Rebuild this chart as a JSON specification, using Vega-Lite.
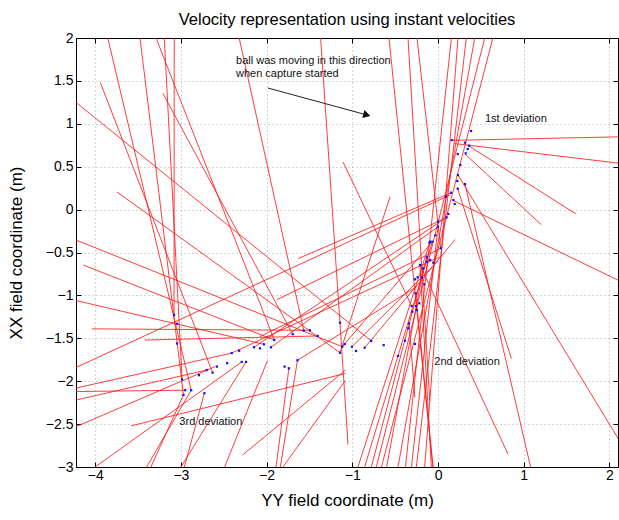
{
  "$schema": "https://vega.github.io/schema/vega-lite/v6.json",
  "width": 542,
  "height": 429,
  "autosize": {"type": "none"},
  "padding": {"left": 76, "top": 38, "right": 1, "bottom": 53},
  "title": {"text": "Velocity representation using instant velocities", "font": "Liberation Sans", "fontSize": 16.5, "fontWeight": "normal", "color": "#000", "baseline": "alphabetic", "offset": -10},
  "datasets": {
    "seg": [
      {"x0": -3.853, "y0": 2.0, "x1": -2.88, "y1": -2.105},
      {"x0": -3.477, "y0": 2.0, "x1": -2.97, "y1": -2.16},
      {"x0": -3.29, "y0": 2.0, "x1": -1.91, "y1": -1.52},
      {"x0": -3.194, "y0": 2.0, "x1": -2.986, "y1": -1.98},
      {"x0": -3.078, "y0": 2.0, "x1": -3.08, "y1": -1.23},
      {"x0": -3.94, "y0": 1.48, "x1": -2.63, "y1": -1.9},
      {"x0": -4.3, "y0": 1.31, "x1": -0.78, "y1": -1.53},
      {"x0": -3.21, "y0": 1.355, "x1": -1.695, "y1": -1.453},
      {"x0": -2.32, "y0": 2.0, "x1": -1.567, "y1": -1.41},
      {"x0": -1.37, "y0": 2.0, "x1": -1.144, "y1": -1.318},
      {"x0": -3.745, "y0": 0.205, "x1": -1.144, "y1": -1.668},
      {"x0": -4.224, "y0": -0.355, "x1": -1.117, "y1": -1.598},
      {"x0": -4.224, "y0": -1.06, "x1": -2.03, "y1": -1.57},
      {"x0": -4.14, "y0": -0.646, "x1": -1.91, "y1": -1.52},
      {"x0": -4.04, "y0": -1.39, "x1": -1.494, "y1": -1.407},
      {"x0": -3.42, "y0": -1.52, "x1": -1.404, "y1": -1.473},
      {"x0": -4.224, "y0": -2.08, "x1": -2.407, "y1": -1.672},
      {"x0": -4.224, "y0": -2.53, "x1": -2.6, "y1": -1.83},
      {"x0": -4.224, "y0": -2.12, "x1": -2.95, "y1": -2.105},
      {"x0": -4.224, "y0": -2.22, "x1": -2.7, "y1": -1.87},
      {"x0": -3.58, "y0": -2.52, "x1": -1.08, "y1": -1.91},
      {"x0": -4.0, "y0": -3.0, "x1": -2.29, "y1": -1.775},
      {"x0": -3.4, "y0": -3.0, "x1": -2.88, "y1": -2.105},
      {"x0": -3.35, "y0": -3.0, "x1": -2.97, "y1": -2.16},
      {"x0": -3.0, "y0": -3.0, "x1": -2.24, "y1": -1.775},
      {"x0": -2.96, "y0": -3.0, "x1": -2.726, "y1": -2.14},
      {"x0": -2.49, "y0": -3.0, "x1": -1.99, "y1": -1.76},
      {"x0": -2.28, "y0": -2.86, "x1": -1.08, "y1": -1.87},
      {"x0": -1.89, "y0": -3.0, "x1": -1.74, "y1": -1.85},
      {"x0": -1.84, "y0": -3.0, "x1": -1.64, "y1": -1.756},
      {"x0": -1.81, "y0": -3.0, "x1": -1.08, "y1": -1.99},
      {"x0": -2.407, "y0": -1.672, "x1": 0.02, "y1": -0.55},
      {"x0": -2.147, "y0": -1.604, "x1": 0.1, "y1": -0.09},
      {"x0": -1.95, "y0": -1.605, "x1": 0.0, "y1": -0.2},
      {"x0": -1.64, "y0": -1.756, "x1": -0.25, "y1": -0.9},
      {"x0": 0.152, "y0": 0.197, "x1": -1.63, "y1": -0.57},
      {"x0": 0.1, "y0": -0.09, "x1": -1.88, "y1": -1.05},
      {"x0": 0.032, "y0": -0.451, "x1": -2.077, "y1": -1.48},
      {"x0": -1.144, "y0": -1.668, "x1": -0.56, "y1": 0.15},
      {"x0": 0.152, "y0": 0.807, "x1": 2.2, "y1": 0.85},
      {"x0": 0.19, "y0": 0.77, "x1": 2.2, "y1": 0.53},
      {"x0": 0.354, "y0": 0.745, "x1": 1.607, "y1": -0.049},
      {"x0": 0.319, "y0": 0.644, "x1": 1.206, "y1": -0.177},
      {"x0": 0.175, "y0": 0.107, "x1": 2.2, "y1": -0.87},
      {"x0": 0.233, "y0": 0.403, "x1": 2.2, "y1": -2.83},
      {"x0": 0.23, "y0": 0.244, "x1": 0.856, "y1": -1.737},
      {"x0": 0.315, "y0": 0.298, "x1": 1.08, "y1": -3.0},
      {"x0": -0.21, "y0": -0.646, "x1": 0.817, "y1": -2.85},
      {"x0": -0.338, "y0": -1.325, "x1": -0.27, "y1": -2.19},
      {"x0": -1.144, "y0": -1.318, "x1": -1.05, "y1": -2.74},
      {"x0": -0.572, "y0": 2.0, "x1": -0.06, "y1": -3.0},
      {"x0": -0.35, "y0": 2.0, "x1": -0.097, "y1": -2.23},
      {"x0": -0.245, "y0": 2.0, "x1": 0.032, "y1": -0.451},
      {"x0": 0.156, "y0": 2.0, "x1": -0.38, "y1": -3.0},
      {"x0": 0.233, "y0": 2.0, "x1": -0.156, "y1": -3.0},
      {"x0": 0.33, "y0": 2.0, "x1": -0.253, "y1": -3.0},
      {"x0": 0.428, "y0": 2.0, "x1": -0.467, "y1": -3.0},
      {"x0": 0.545, "y0": 2.0, "x1": -0.72, "y1": -3.0},
      {"x0": 0.64, "y0": 2.0, "x1": -0.66, "y1": -3.0},
      {"x0": -0.934, "y0": -3.0, "x1": -0.093, "y1": -0.374},
      {"x0": -0.856, "y0": -3.0, "x1": -0.066, "y1": -0.374},
      {"x0": -0.778, "y0": -3.0, "x1": -0.132, "y1": -0.556},
      {"x0": -0.6, "y0": -3.0, "x1": -0.172, "y1": -0.684},
      {"x0": -0.31, "y0": -3.0, "x1": 0.0, "y1": -0.2},
      {"x0": -0.078, "y0": -3.0, "x1": -0.21, "y1": -0.646},
      {"x0": -0.058, "y0": -3.0, "x1": -0.26, "y1": -0.976},
      {"x0": 0.14, "y0": 0.17, "x1": -4.224, "y1": -1.84},
      {"x0": -1.108, "y0": 0.555, "x1": -0.307, "y1": -1.124},
      {"x0": -1.117, "y0": -1.598, "x1": -0.066, "y1": -0.374},
      {"x0": -1.004, "y0": -1.598, "x1": 0.0, "y1": -0.6},
      {"x0": -0.856, "y0": -1.61, "x1": 0.2, "y1": -0.35}
    ],
    "dots": [
      {"x": -3.08, "y": -1.23}, {"x": -3.045, "y": -1.33}, {"x": -3.045, "y": -1.56}, {"x": -2.986, "y": -1.98},
      {"x": -2.95, "y": -2.105}, {"x": -2.88, "y": -2.105}, {"x": -2.97, "y": -2.16}, {"x": -2.726, "y": -2.14},
      {"x": -2.79, "y": -1.93}, {"x": -2.7, "y": -1.87}, {"x": -2.63, "y": -1.9}, {"x": -2.58, "y": -1.83},
      {"x": -2.46, "y": -1.79}, {"x": -2.407, "y": -1.672}, {"x": -2.32, "y": -1.645}, {"x": -2.29, "y": -1.775},
      {"x": -2.24, "y": -1.775}, {"x": -2.147, "y": -1.604}, {"x": -2.077, "y": -1.617}, {"x": -2.03, "y": -1.57},
      {"x": -1.95, "y": -1.605}, {"x": -1.91, "y": -1.52}, {"x": -1.79, "y": -1.83}, {"x": -1.74, "y": -1.85},
      {"x": -1.64, "y": -1.756}, {"x": -1.695, "y": -1.453}, {"x": -1.567, "y": -1.41}, {"x": -1.494, "y": -1.407},
      {"x": -1.404, "y": -1.473}, {"x": -1.144, "y": -1.318}, {"x": -1.089, "y": -1.567}, {"x": -1.117, "y": -1.598},
      {"x": -1.144, "y": -1.668}, {"x": -1.004, "y": -1.598}, {"x": -0.957, "y": -1.648}, {"x": -0.856, "y": -1.61},
      {"x": -0.78, "y": -1.53}, {"x": -0.634, "y": -1.58},
      {"x": -0.467, "y": -1.706}, {"x": -0.385, "y": -1.528}, {"x": -0.347, "y": -1.383}, {"x": -0.338, "y": -1.325},
      {"x": -0.3, "y": -1.19}, {"x": -0.249, "y": -1.17}, {"x": -0.307, "y": -1.124}, {"x": -0.257, "y": -1.124},
      {"x": -0.218, "y": -1.092}, {"x": -0.26, "y": -0.976}, {"x": -0.16, "y": -0.871}, {"x": -0.268, "y": -0.812},
      {"x": -0.237, "y": -0.789}, {"x": -0.19, "y": -0.789}, {"x": -0.172, "y": -0.684}, {"x": -0.21, "y": -0.646},
      {"x": -0.132, "y": -0.607}, {"x": -0.093, "y": -0.587}, {"x": -0.055, "y": -0.618}, {"x": -0.132, "y": -0.556},
      {"x": 0.032, "y": -0.451}, {"x": -0.093, "y": -0.374}, {"x": -0.066, "y": -0.374}, {"x": -0.268, "y": -1.566},
      {"x": -0.1, "y": -0.386}, {"x": -0.03, "y": -0.3}, {"x": 0.0, "y": -0.2}, {"x": 0.0, "y": -0.141},
      {"x": 0.1, "y": -0.09}, {"x": 0.12, "y": -0.05}, {"x": 0.195, "y": 0.065}, {"x": 0.18, "y": 0.112},
      {"x": 0.093, "y": 0.15}, {"x": 0.152, "y": 0.197}, {"x": 0.23, "y": 0.244}, {"x": 0.315, "y": 0.298},
      {"x": 0.225, "y": 0.333}, {"x": 0.233, "y": 0.403}, {"x": 0.26, "y": 0.52}, {"x": 0.323, "y": 0.656},
      {"x": 0.23, "y": 0.648}, {"x": 0.347, "y": 0.706}, {"x": 0.362, "y": 0.745}, {"x": 0.315, "y": 0.78},
      {"x": 0.16, "y": 0.81}, {"x": 0.385, "y": 0.916}
    ],
    "notes": [
      {"x": -2.357, "y": 1.693, "t": "ball was moving in this direction"},
      {"x": -2.357, "y": 1.549, "t": "when capture started"},
      {"x": 0.548, "y": 1.02, "t": "1st deviation"},
      {"x": -0.043, "y": -1.811, "t": "2nd deviation"},
      {"x": -3.018, "y": -2.51, "t": "3rd deviation"}
    ],
    "arrow": [{"x0": -1.984, "y0": 1.417, "x1": -0.83, "y1": 1.103}]
  },
  "layer": [
    {
      "data": {"name": "seg"},
      "mark": {"type": "rule", "color": "#ff1a1a", "strokeWidth": 1, "opacity": 0.85, "clip": true},
      "encoding": {
        "x": {"field": "x0", "type": "quantitative", "scale": {"domain": [-4.224, 2.1], "nice": false, "zero": false},
              "axis": {"orient": "bottom", "values": [-4, -3, -2, -1, 0, 1, 2], "format": ".1~f", "title": "YY field coordinate (m)", "grid": true, "labelPadding": 6, "titlePadding": 10}},
        "y": {"field": "y0", "type": "quantitative", "scale": {"domain": [-3, 2], "nice": false, "zero": false},
              "axis": {"orient": "left", "values": [-3, -2.5, -2, -1.5, -1, -0.5, 0, 0.5, 1, 1.5, 2], "format": ".1~f", "title": "XX field coordinate (m)", "grid": true, "labelPadding": 8, "titlePadding": 20}},
        "x2": {"field": "x1"},
        "y2": {"field": "y1"}
      }
    },
    {
      "data": {"name": "dots"},
      "mark": {"type": "point", "shape": "square", "filled": true, "color": "#1010ff", "size": 5, "opacity": 1},
      "encoding": {
        "x": {"field": "x", "type": "quantitative", "scale": {"domain": [-4.224, 2.1], "nice": false, "zero": false},
              "axis": {"orient": "top", "values": [-4, -3, -2, -1, 0, 1, 2], "labels": false, "title": null, "grid": false}},
        "y": {"field": "y", "type": "quantitative", "scale": {"domain": [-3, 2], "nice": false, "zero": false},
              "axis": {"orient": "right", "values": [-3, -2.5, -2, -1.5, -1, -0.5, 0, 0.5, 1, 1.5, 2], "labels": false, "title": null, "grid": false}}
      }
    },
    {
      "data": {"name": "arrow"},
      "mark": {"type": "rule", "color": "#222", "strokeWidth": 1},
      "encoding": {
        "x": {"field": "x0", "type": "quantitative", "scale": {"domain": [-4.224, 2.1], "nice": false, "zero": false}, "axis": null},
        "y": {"field": "y0", "type": "quantitative", "scale": {"domain": [-3, 2], "nice": false, "zero": false}, "axis": null},
        "x2": {"field": "x1"},
        "y2": {"field": "y1"}
      }
    },
    {
      "data": {"name": "arrow"},
      "mark": {"type": "point", "shape": "triangle-right", "filled": true, "color": "#111", "size": 70, "angle": 15, "opacity": 1},
      "encoding": {
        "x": {"field": "x1", "type": "quantitative", "scale": {"domain": [-4.224, 2.1], "nice": false, "zero": false}, "axis": null},
        "y": {"field": "y1", "type": "quantitative", "scale": {"domain": [-3, 2], "nice": false, "zero": false}, "axis": null}
      }
    },
    {
      "data": {"name": "notes"},
      "mark": {"type": "text", "align": "left", "baseline": "alphabetic", "font": "Liberation Sans", "fontSize": 11, "color": "#111"},
      "encoding": {
        "x": {"field": "x", "type": "quantitative", "scale": {"domain": [-4.224, 2.1], "nice": false, "zero": false}, "axis": null},
        "y": {"field": "y", "type": "quantitative", "scale": {"domain": [-3, 2], "nice": false, "zero": false}, "axis": null},
        "text": {"field": "t"}
      }
    }
  ],
  "resolve": {"axis": {"x": "independent", "y": "independent"}},
  "config": {
    "view": {"stroke": "#000", "strokeWidth": 1},
    "axis": {
      "labelFont": "Liberation Sans", "titleFont": "Liberation Sans",
      "labelFontSize": 14, "titleFontSize": 17, "titleFontWeight": "normal",
      "labelColor": "#000", "titleColor": "#000",
      "domainColor": "#000", "tickColor": "#000", "tickSize": -5,
      "gridColor": "#a8a8a8", "gridDash": [1, 3], "gridWidth": 1
    }
  }
}
